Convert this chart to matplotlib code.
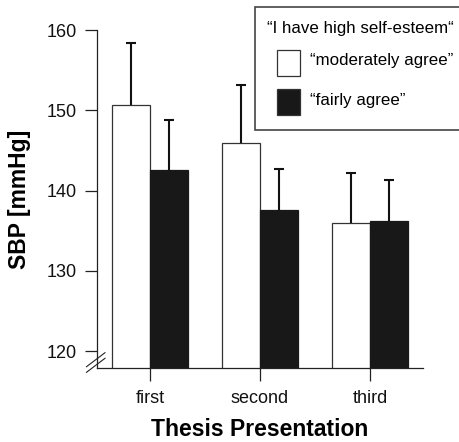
import numpy as np
import matplotlib.pyplot as plt
from matplotlib.patches import Rectangle

plt.rcParams['font.family'] = ['Liberation Sans', 'DejaVu Sans']

categories = ['first', 'second', 'third']
moderately = [150.65, 145.9, 135.9]
moderately_err = [7.75, 7.2, 6.25]
fairly = [142.6, 137.6, 136.25]
fairly_err = [6.15, 5.05, 5.05]
yticks = [120, 130, 140, 150, 160]
legend_title = '\u201cI have high self-esteem\u201c'
legend_labels = ['\u201cmoderately agree\u201d', '\u201cfairly agree\u201d']

W, H = 460, 442
fig = plt.figure(figsize=(W / 100, H / 100), dpi=100)

def fx(px):
    return px / W

def fy(py):
    return 1 - py / H

ax = fig.add_axes([fx(97), fy(368), fx(423) - fx(97), fy(30) - fy(368)])

x = np.arange(len(categories))
w = 0.345
ax.bar(x - w / 2, moderately, w, color='white', edgecolor='#333333', linewidth=0.9, zorder=2)
ax.bar(x + w / 2, fairly, w, color='#181818', edgecolor='#181818', linewidth=0.9, zorder=2)

# only the upper half of each error bar, cap on top
for xs, m, e in [(x - w / 2, moderately, moderately_err), (x + w / 2, fairly, fairly_err)]:
    top = np.array(m) + np.array(e)
    ax.vlines(xs, m, top, colors='#111111', lw=1.5, zorder=3)
    ax.plot(xs, top, ls='none', marker='_', ms=7.6, mew=1.5, color='#111111', zorder=3)

ax.set_xlim(-0.482, 2.482)
ax.set_ylim(117.9, 160)
ax.set_yticks(yticks)
ax.set_xticks(x)
ax.set_xticklabels(categories)
ax.tick_params(axis='both', direction='out', length=9, width=0.9, colors='#222222',
               labelsize=13, labelcolor='#111111')
ax.tick_params(axis='y', pad=5.5)
ax.tick_params(axis='x', pad=7)
for s in ['top', 'right']:
    ax.spines[s].set_visible(False)
for s in ['left', 'bottom']:
    ax.spines[s].set_linewidth(0.9)
    ax.spines[s].set_color('#222222')

ax.set_ylabel('SBP [mmHg]', fontsize=16.5, fontweight='bold', labelpad=11)
ax.set_xlabel('Thesis Presentation', fontsize=16.5, fontweight='bold', labelpad=8)

# axis break marks
for off in [0, 5.6]:
    fig.add_artist(plt.Line2D([fx(86.5), fx(105)], [fy(366.7 + off), fy(352.7 + off)],
                              color='#222222', lw=0.8))

# legend box drawn by hand
fig.add_artist(Rectangle((fx(255), fy(130)), fx(470) - fx(255), fy(7) - fy(130),
                         facecolor='white', edgecolor='#444444', lw=1.2, zorder=5))
fig.text(fx(267), fy(29), legend_title, fontsize=12.2, va='center', ha='left', zorder=6)
colors = ['white', '#181818']
rows = [63, 102]
for lab, col, r in zip(legend_labels, colors, rows):
    fig.add_artist(Rectangle((fx(277), fy(r + 13)), fx(300) - fx(277), fy(r - 13) - fy(r + 13),
                             facecolor=col, edgecolor='#333333', lw=0.9, zorder=6))
    fig.text(fx(310), fy(r - 2), lab, fontsize=12.2, va='center', ha='left', zorder=6)

fig.savefig('out.png', dpi=100)
